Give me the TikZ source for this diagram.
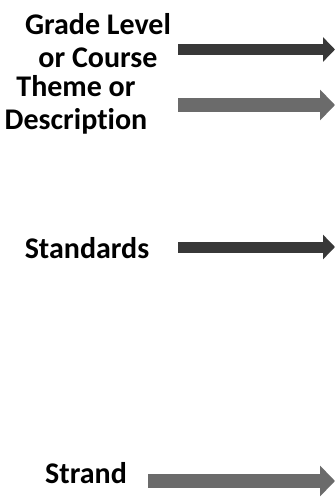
\documentclass[tikz,border=0pt]{standalone}
\usepackage{fontspec}
\setmainfont{Carlito}[Ligatures=NoCommon]
\usetikzlibrary{arrows.meta}

\tikzset{
  lbl/.style={font=\bfseries\fontsize{30}{33}\selectfont, align=center, inner sep=0pt},
  darkarrow/.style={draw=black!78, line width=11pt, -{Triangle[length=12pt 0, width=24pt 0]}},
  lightarrow/.style={draw=black!58, line width=14pt, -{Triangle[length=15pt 0, width=30pt 0]}},
}

\begin{document}
\begin{tikzpicture}[x=1pt, y=-1pt]
  \useasboundingbox (0,0) rectangle (336,500);

  %% labels on the left (base = last line)
  \node[lbl, anchor=base] (grade) at (98,68) {Grade Level\\or Course};
  \node[lbl, anchor=base] (theme) at (76,129) {Theme or\\Description};
  \node[lbl, anchor=base] (standards) at (87,258) {Standards};
  \node[lbl, anchor=base] (strand) at (86,483) {Strand};

  %% arrow ends
  \coordinate (grade-from) at (178,49.5);
  \coordinate (grade-to) at (335,49.5);
  \coordinate (theme-from) at (178,105);
  \coordinate (theme-to) at (335,105);
  \coordinate (standards-from) at (178,247);
  \coordinate (standards-to) at (335,247);
  \coordinate (strand-from) at (148,481);
  \coordinate (strand-to) at (335,481);

  \draw[darkarrow] (grade-from) -- (grade-to);
  \draw[lightarrow] (theme-from) -- (theme-to);
  \draw[darkarrow] (standards-from) -- (standards-to);
  \draw[lightarrow] (strand-from) -- (strand-to);
\end{tikzpicture}
\end{document}
